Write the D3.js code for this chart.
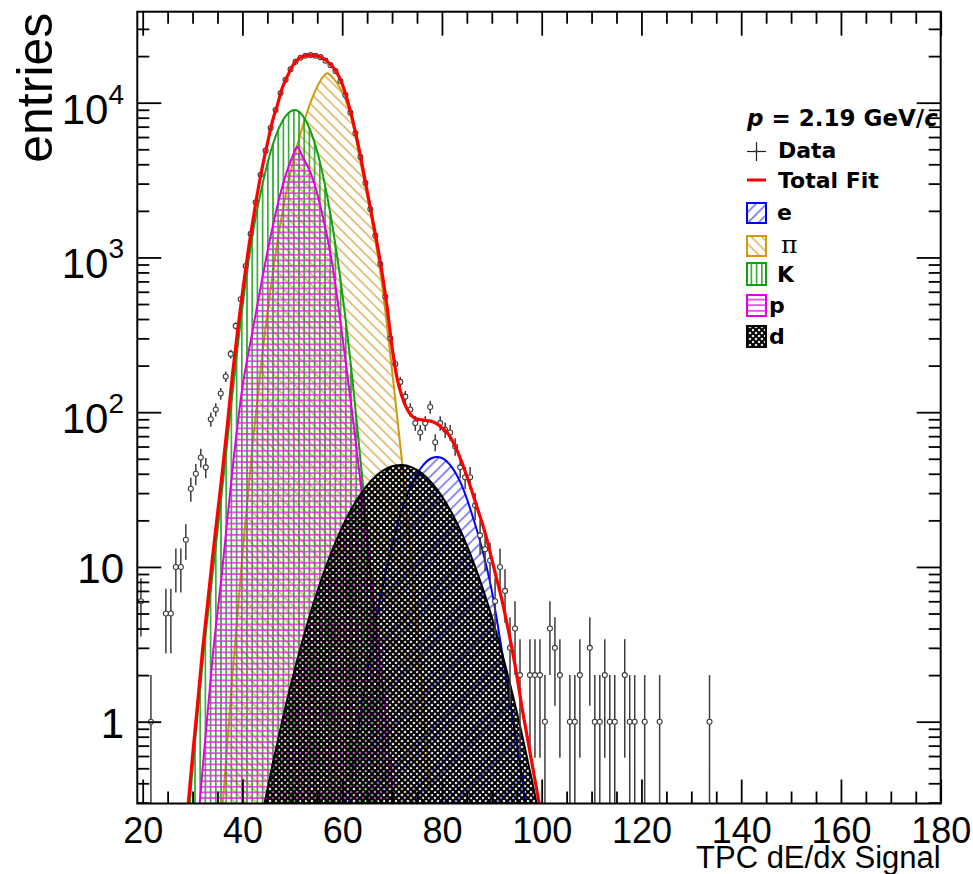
<!DOCTYPE html>
<html>
<head>
<meta charset="utf-8">
<script src="https://cdn.jsdelivr.net/npm/d3@7/dist/d3.min.js"></script>
<style>
  html, body { margin: 0; padding: 0; background: #ffffff; }
  svg { display: block; }
  text { font-family: "Liberation Sans", Arial, Helvetica, sans-serif; fill: #000; }
  .legend text { font-family: "DejaVu Sans", "Liberation Sans", sans-serif; font-weight: bold; }
  .legend text.symbol { font-family: "DejaVu Serif", "Liberation Serif", serif; font-weight: normal; font-style: normal; }
</style>
</head>
<body>
<svg id="chart" width="973" height="874"></svg>
<script>
// ---- measured TPC dE/dx histogram: bin centre and entries ----
const binCenters = [19.65, 21.65, 24.65, 25.65, 26.65, 27.65, 28.65, 29.65, 30.65, 31.65,
  32.65, 33.65, 34.65, 35.65, 36.65, 37.65, 38.65, 39.65, 40.65, 41.65,
  42.65, 43.65, 44.65, 45.65, 46.65, 47.65, 48.65, 49.65, 50.65, 51.65,
  52.65, 53.65, 54.65, 55.65, 56.65, 57.65, 58.65, 59.65, 60.65, 61.65,
  62.65, 63.65, 64.65, 65.65, 66.65, 67.65, 68.65, 69.65, 70.65, 71.65,
  72.65, 73.65, 74.65, 75.65, 76.65, 77.65, 78.65, 79.65, 80.65, 81.65,
  82.65, 83.65, 84.65, 85.65, 86.65, 87.65, 88.65, 89.65, 90.65, 91.65,
  92.65, 93.65, 94.65, 95.65, 97.65, 98.65, 99.65, 100.65, 101.65, 102.65,
  103.65, 105.65, 106.65, 107.65, 109.65, 110.65, 111.65, 112.65, 113.65, 114.65,
  116.65, 117.65, 118.65, 120.65, 123.65, 133.65];
const entries = [6, 1, 5, 5, 10, 10, 15, 32, 40, 51,
  44, 90, 104, 132, 170, 238, 361, 537, 880, 1420,
  2270, 3420, 4900, 6860, 8980, 11560, 14060, 16440, 18360, 19500,
  20100, 20300, 20100, 19700, 18700, 17500, 16000, 13800, 11200, 8630,
  6340, 4450, 3030, 2050, 1380, 906, 557, 300, 205, 157,
  126, 104, 85, 74, 85, 108, 64, 85, 77, 74,
  60, 44, 38, 38, 25, 16, 13, 11, 6, 10,
  7, 3, 4, 2, 2, 2, 2, 1, 4, 3,
  2, 1, 1, 2, 3, 1, 1, 2, 1, 1,
  2, 1, 1, 1, 1, 1];

// ---- fitted particle contributions (entries along dE/dx) ----
const eX  = [60, 62, 64, 66, 68, 70, 72, 74, 76, 78, 79, 80, 82, 84, 86, 88, 90, 92, 94, 96, 98];
const eY  = [0.14, 0.45, 1.3, 3.2, 7.2, 13.8, 23.5, 34.5, 44.5, 50.6, 51.4, 50.6, 44.0, 33.5, 22.0, 13.3, 7.0, 2.9, 1.15, 0.45, 0.15];

const piX = [36, 38, 40, 42, 44, 46, 48, 50, 52, 54, 56, 57, 58, 60, 62, 64, 66, 68, 70, 72, 74, 76, 78];
const piY = [0.28, 2.0, 12.0, 60.3, 240, 759, 1950, 3980, 6920, 10700, 14450, 15500, 14620, 11750, 7590, 3630, 1700, 661, 186, 47.9, 10.0, 1.70, 0.23];

const kX  = [28, 30, 32, 34, 36, 38, 40, 42, 44, 46, 48, 50, 50.4, 52, 54, 56, 58, 60, 62, 64, 66, 68, 70];
const kY  = [0.079, 0.50, 2.40, 8.9, 33.1, 132, 479, 1380, 2950, 5250, 7590, 8910, 8970, 8320, 6120, 3560, 1630, 593, 170, 38.5, 6.9, 0.97, 0.108];

const pX  = [30, 32, 34, 36, 38, 40, 42, 44, 46, 48, 50, 51, 52, 54, 56, 58, 60, 62, 64, 66, 68, 70, 72];
const pY  = [0.081, 0.49, 2.57, 9.9, 42.7, 145, 331, 741, 1550, 2880, 4470, 5200, 4520, 3310, 1910, 912, 316, 100, 28.8, 7.6, 1.82, 0.40, 0.079];

const dX  = [42, 44, 46, 48, 50, 52, 54, 56, 58, 60, 62, 64, 66, 68, 70, 72, 74, 76, 78, 80, 82, 84, 86, 88, 90, 92, 94, 96, 98, 100];
const dY  = [0.117, 0.254, 0.524, 1.02, 1.89, 3.30, 5.48, 8.61, 12.8, 18.1, 24.2, 30.5, 36.6, 41.6, 44.7, 45.6, 44.0, 40.3, 34.8, 28.6, 22.2, 16.4, 11.4, 7.57, 4.73, 2.81, 1.58, 0.84, 0.425, 0.203];

// ---- total fit ----
const totalX = [29, 30, 31, 32, 33, 34, 35, 36, 37, 38, 39, 40, 41, 42, 43, 44, 45, 46, 47, 48,
  49, 50, 51, 52, 53, 54, 55, 56, 57, 58, 59, 60, 61, 62, 63, 64, 65, 66, 67, 68,
  69, 70, 71, 72, 73, 74, 75, 76, 77, 78, 79, 80, 81, 82, 83, 84, 85, 86, 87, 88,
  89, 90, 91, 92, 93, 94, 95, 96, 97, 98, 99, 100];
const totalY = [0.263, 0.60, 1.3, 2.89, 5.74, 11.5, 22, 42, 84, 175, 330, 590, 1020, 1650, 2600, 3850, 5440, 7560, 9640, 12500,
  14800, 17200, 18900, 19800, 20200, 20300, 20000, 19500, 18500, 17200, 15500, 13200, 10500, 7940, 5750, 3980, 2690, 1820, 1230, 794,
  479, 263, 166, 126, 105, 94.4, 90.2, 89.1, 88.1, 87.1, 84.1, 79.4, 74.1, 66.1, 56.9, 47.3, 38.5, 30.9, 24.5, 19.5,
  15.1, 11.2, 8.32, 6.17, 4.37, 3.02, 2.0, 1.26, 0.832, 0.55, 0.363, 0.24];

// ---- axis ticks ----
const xMajorTicks = [20, 40, 60, 80, 100, 120, 140, 160, 180];
const xMinorTicks = [25, 30, 35, 45, 50, 55, 65, 70, 75, 85, 90, 95, 105, 110, 115, 125, 130, 135, 145, 150, 155, 165, 170, 175];
const yMajorTicks = [1, 10, 100, 1000, 10000];
const yMinorTicks = [0.3, 0.4, 0.5, 0.6, 0.7, 0.8, 0.9, 2, 3, 4, 5, 6, 7, 8, 9,
  20, 30, 40, 50, 60, 70, 80, 90, 200, 300, 400, 500, 600, 700, 800, 900,
  2000, 3000, 4000, 5000, 6000, 7000, 8000, 9000, 20000, 30000];

const xDomain = [18.92, 180];
const yDomain = [0.296, 38730];

// ---- layout ----
const frame = { left: 137.3, right: 940.7, top: 11.7, bottom: 803.5 };
const svg = d3.select("#chart");
const x = d3.scaleLinear().domain(xDomain).range([frame.left, frame.right]);
const y = d3.scaleLog().domain(yDomain).range([frame.bottom, frame.top]);

const defs = svg.append("defs");
defs.append("clipPath").attr("id", "plot-clip")
  .append("rect")
  .attr("x", frame.left).attr("y", frame.top)
  .attr("width", frame.right - frame.left).attr("height", frame.bottom - frame.top);

// hatch fills
function linePattern(id, spacing, angle, color, width) {
  const p = defs.append("pattern").attr("id", id)
    .attr("patternUnits", "userSpaceOnUse")
    .attr("width", spacing).attr("height", spacing)
    .attr("patternTransform", `rotate(${angle})`);
  p.append("line")
    .attr("x1", spacing / 2).attr("y1", -1)
    .attr("x2", spacing / 2).attr("y2", spacing + 1)
    .attr("stroke", color).attr("stroke-width", width);
}
linePattern("hatch-e", 7.5, 45, "#5c5cff", 1.4);
linePattern("hatch-pi", 7.5, -45, "#d8a540", 1.3);
linePattern("hatch-k", 5.2, 0, "#1f9f1f", 1.5);
linePattern("hatch-p", 5.6, 90, "#e825e8", 1.5);
const cross = defs.append("pattern").attr("id", "hatch-d")
  .attr("patternUnits", "userSpaceOnUse").attr("width", 6).attr("height", 6);
cross.append("path").attr("d", "M-1,-1L7,7M7,-1L-1,7")
  .attr("stroke", "#000").attr("stroke-width", 2.1).attr("fill", "none");

const plot = svg.append("g").attr("clip-path", "url(#plot-clip)");

const components = [
  { xs: eX,  ys: eY,  stroke: "#0000ff", fill: "url(#hatch-e)" },
  { xs: piX, ys: piY, stroke: "#d09a10", fill: "url(#hatch-pi)" },
  { xs: kX,  ys: kY,  stroke: "#12a012", fill: "url(#hatch-k)" },
  { xs: pX,  ys: pY,  stroke: "#e000e0", fill: "url(#hatch-p)" },
  { xs: dX,  ys: dY,  stroke: "#000000", fill: "url(#hatch-d)" }
];

const area = d3.area()
  .x(d => x(d[0])).y0(frame.bottom + 10).y1(d => y(d[1]))
  .curve(d3.curveMonotoneX);
const line = d3.line()
  .x(d => x(d[0])).y(d => y(d[1]))
  .curve(d3.curveMonotoneX);

components.forEach(c => {
  const pts = c.xs.map((v, i) => [v, c.ys[i]]);
  plot.append("path").attr("d", area(pts)).attr("fill", c.fill).attr("stroke", "none");
  plot.append("path").attr("d", line(pts)).attr("fill", "none")
    .attr("stroke", c.stroke).attr("stroke-width", 2).attr("stroke-linejoin", "round");
});

// data points with Poisson error bars
const dataG = plot.append("g");
binCenters.forEach((c, i) => {
  const n = entries[i];
  const err = Math.sqrt(n);
  const cx = x(c), cy = y(n);
  const yHi = y(n + err);
  const yLo = (n - err) > 0 ? y(n - err) : frame.bottom + 5;
  dataG.append("line").attr("x1", cx).attr("x2", cx).attr("y1", yHi).attr("y2", yLo)
    .attr("stroke", "#3c3c3c").attr("stroke-width", 1.5);
  dataG.append("circle").attr("cx", cx).attr("cy", cy).attr("r", 2.5)
    .attr("fill", "#ffffff").attr("stroke", "#3c3c3c").attr("stroke-width", 1.1);
});

// total fit drawn over the points
const totalPts = totalX.map((v, i) => [v, totalY[i]]);
plot.append("path").attr("d", line(totalPts)).attr("fill", "none")
  .attr("stroke", "#ff0000").attr("stroke-width", 3.2).attr("stroke-linejoin", "round");

// ---- axes (ticks on all four sides, pointing inward) ----
function styleAxis(g) {
  g.select(".domain").remove();
  g.selectAll(".tick line").attr("stroke", "#000").attr("stroke-width", 1.8);
}
svg.append("g").attr("transform", `translate(0,${frame.bottom})`)
  .call(d3.axisBottom(x).tickValues(xMajorTicks).tickSizeInner(-24).tickSizeOuter(0).tickPadding(14))
  .call(styleAxis)
  .call(g => g.selectAll("text").style("font-size", "36px")
    .attr("font-family", "Liberation Sans, Arial, sans-serif").attr("fill", "#000"));
svg.append("g").attr("transform", `translate(0,${frame.bottom})`)
  .call(d3.axisBottom(x).tickValues(xMinorTicks).tickSizeInner(-12).tickSizeOuter(0).tickFormat(""))
  .call(styleAxis);
svg.append("g").attr("transform", `translate(0,${frame.top})`)
  .call(d3.axisTop(x).tickValues(xMajorTicks).tickSizeInner(-24).tickSizeOuter(0).tickFormat(""))
  .call(styleAxis);
svg.append("g").attr("transform", `translate(0,${frame.top})`)
  .call(d3.axisTop(x).tickValues(xMinorTicks).tickSizeInner(-12).tickSizeOuter(0).tickFormat(""))
  .call(styleAxis);
svg.append("g").attr("transform", `translate(${frame.left},0)`)
  .call(d3.axisLeft(y).tickValues(yMajorTicks).tickSizeInner(-24).tickSizeOuter(0).tickFormat(""))
  .call(styleAxis);
svg.append("g").attr("transform", `translate(${frame.left},0)`)
  .call(d3.axisLeft(y).tickValues(yMinorTicks).tickSizeInner(-12).tickSizeOuter(0).tickFormat(""))
  .call(styleAxis);
svg.append("g").attr("transform", `translate(${frame.right},0)`)
  .call(d3.axisRight(y).tickValues(yMajorTicks).tickSizeInner(-24).tickSizeOuter(0).tickFormat(""))
  .call(styleAxis);
svg.append("g").attr("transform", `translate(${frame.right},0)`)
  .call(d3.axisRight(y).tickValues(yMinorTicks).tickSizeInner(-12).tickSizeOuter(0).tickFormat(""))
  .call(styleAxis);

// y tick labels as powers of ten
yMajorTicks.forEach(v => {
  const p = Math.round(Math.log10(v));
  const t = svg.append("text").attr("x", 124).attr("text-anchor", "end").style("font-size", "42px");
  if (p < 2) {
    t.attr("y", y(v) + 16.5).text(p === 0 ? "1" : "10");
  } else {
    t.attr("y", y(v) + 21);
    t.append("tspan").text("10");
    t.append("tspan").attr("dy", -20).style("font-size", "28px").text(p);
  }
});

// frame
svg.append("rect")
  .attr("x", frame.left).attr("y", frame.top)
  .attr("width", frame.right - frame.left).attr("height", frame.bottom - frame.top)
  .attr("fill", "none").attr("stroke", "#000").attr("stroke-width", 2);

// axis titles
svg.append("text")
  .attr("transform", `translate(52,${frame.top + 1}) rotate(-90)`)
  .attr("text-anchor", "end").style("font-size", "50px").text("entries");
svg.append("text")
  .attr("x", frame.right).attr("y", 868).attr("text-anchor", "end")
  .style("font-size", "31px").text("TPC dE/dx Signal");

// ---- legend ----
const lg = svg.append("g").attr("class", "legend");
const head = lg.append("text").attr("x", 747).attr("y", 126).style("font-size", "23px");
head.append("tspan").style("font-style", "italic").text("p");
head.append("tspan").text(" = 2.19 GeV/");
head.append("tspan").style("font-style", "italic").text("c");

// Data entry
lg.append("line").attr("x1", 747).attr("x2", 766).attr("y1", 151.5).attr("y2", 151.5).attr("stroke", "#222").attr("stroke-width", 1.2);
lg.append("line").attr("x1", 756.5).attr("x2", 756.5).attr("y1", 142).attr("y2", 161).attr("stroke", "#222").attr("stroke-width", 1.2);
lg.append("circle").attr("cx", 756.5).attr("cy", 151.5).attr("r", 1.4).attr("fill", "#444");
lg.append("text").attr("x", 778).attr("y", 158).style("font-size", "22px").text("Data");

// Total fit entry
lg.append("line").attr("x1", 747).attr("x2", 766).attr("y1", 180).attr("y2", 180).attr("stroke", "#ff0000").attr("stroke-width", 3);
lg.append("text").attr("x", 778).attr("y", 188).style("font-size", "22px").text("Total Fit");

const legendItems = [
  { label: "e", fill: "url(#hatch-e)",  stroke: "#0000ff", top: 203, h: 20, tx: 777, size: 22, symbol: false },
  { label: "π", fill: "url(#hatch-pi)", stroke: "#d09a10", top: 236, h: 20, tx: 781, size: 25, symbol: true },
  { label: "K", fill: "url(#hatch-k)",  stroke: "#12a012", top: 263, h: 22, tx: 777, size: 22, symbol: false },
  { label: "p", fill: "url(#hatch-p)",  stroke: "#e000e0", top: 295, h: 21, tx: 769, size: 22, symbol: false },
  { label: "d", fill: "url(#hatch-d)",  stroke: "#000000", top: 326, h: 21, tx: 769, size: 22, symbol: false }
];
legendItems.forEach(it => {
  lg.append("rect").attr("x", 747).attr("y", it.top).attr("width", 19).attr("height", it.h)
    .attr("fill", "#fff").attr("stroke", "none");
  lg.append("rect").attr("x", 747).attr("y", it.top).attr("width", 19).attr("height", it.h)
    .attr("fill", it.fill).attr("stroke", it.stroke).attr("stroke-width", 2);
  lg.append("text").attr("class", it.symbol ? "symbol" : null)
    .attr("x", it.tx).attr("y", it.top + it.h - 3).style("font-size", it.size + "px").text(it.label);
});
</script>
</body>
</html>
